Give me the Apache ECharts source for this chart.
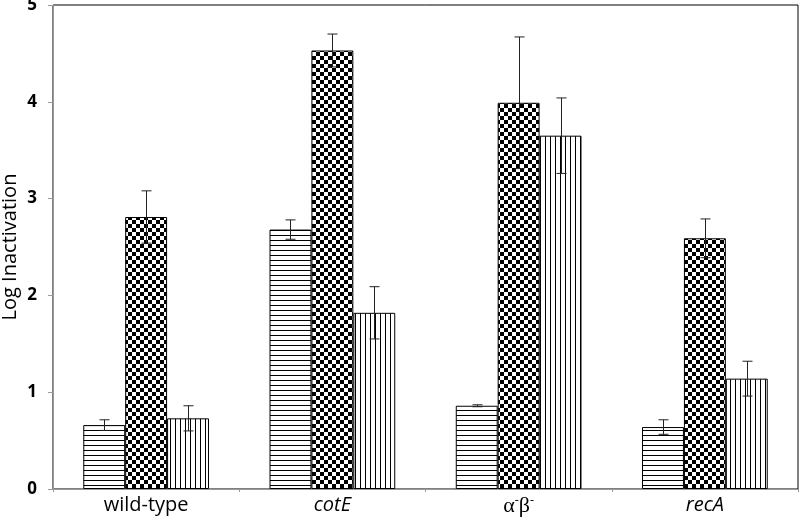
<!DOCTYPE html>
<html>
<head>
<meta charset="utf-8">
<style>
	html,body{ margin:0; padding:0; background:#fff;}
	#main{ width:800px; height:520px;}
</style>
<script src="https://cdn.jsdelivr.net/npm/echarts@6/dist/echarts.min.js"></script>
</head>
<body>
<div id="main"></div>
<script>
// data
var categories=['wild-type','cotE','ab','recA'];
var horizVals=[0.66,2.68,0.86,0.64];
var horizErr=[0.055,0.10,0.01,0.075];
var checkVals=[2.81,4.53,3.99,2.59];
var checkErr=[0.27,0.17,0.68,0.20];
var vertVals=[0.73,1.82,3.65,1.14];
var vertErr=[0.13,0.27,0.39,0.18];
var yTicks=[0,1,2,3,4,5];

var catGap=0.325;

// fill patterns
var makeTile=function(w,h,draw){
	var c=document.createElement('canvas');
	c.width=w;c.height=h;
	var ctx=c.getContext('2d');
	ctx.fillStyle='#fff';
	ctx.fillRect(0,0,w,h);
	ctx.fillStyle='#000';
	draw(ctx);
	return {image:c,repeat:'repeat'};
}
var horizPat=makeTile(8,5,function(ctx){ ctx.fillRect(0,0,8,1); });
var vertPat=makeTile(5,8,function(ctx){ ctx.fillRect(0,0,1,8); });
var checkPat=makeTile(8,8,function(ctx){ ctx.fillRect(0,0,4,4); ctx.fillRect(4,4,4,4); });

var errSeries=function(idx,vals,errs){
	var data=[];
	for(var i in vals){
		data.push([parseInt(i),vals[i],errs[i]]);
	}
	return {
		type:'custom',
		z:5,
		silent:true,
		data:data,
		renderItem:function(params,api){
			var ci=api.value(0),v=api.value(1),e=api.value(2);
			var cw=api.size([1,0])[0];
			var bw=cw*(1-catGap)/3;
			var off=(idx-1)*bw;
			var top=api.coord([ci,v+e]);
			var bot=api.coord([ci,v-e]);
			var x=Math.round(top[0]+off)+0.5;
			var st={stroke:'#222',lineWidth:1};
			return {type:'group',children:[
				{type:'line',shape:{x1:x,y1:top[1],x2:x,y2:bot[1]},style:st},
				{type:'line',shape:{x1:x-5,y1:top[1],x2:x+5,y2:top[1]},style:st},
				{type:'line',shape:{x1:x-5,y1:bot[1],x2:x+5,y2:bot[1]},style:st}
			]};
		}
	};
}

var barSeries=function(vals,pat){
	return {
		type:'bar',
		data:vals,
		barGap:'0%',
		barCategoryGap:(catGap*100)+'%',
		itemStyle:{color:pat,borderColor:'#000',borderWidth:1},
		silent:true
	};
}

var myChart=echarts.init(document.getElementById('main'));
myChart.setOption({
	animation:false,
	backgroundColor:'#fff',
	grid:{left:53,right:2,top:5,bottom:31,show:true,borderColor:'#000',borderWidth:1,outerBoundsMode:'none',containLabel:false},
	xAxis:{
		type:'category',
		data:categories,
		axisLine:{lineStyle:{color:'#999',width:1}},
		axisTick:{show:true,length:3,lineStyle:{color:'#999'}},
		axisLabel:{
			interval:0,
			margin:6,
			fontSize:20,
			color:'#000',
			fontFamily:'Open Sans',
			formatter:function(v){
				if(v=='ab')return '{g|α}{s|-}{g|β}{s|-}';
				if(v=='cotE'||v=='recA')return '{i|'+v+'}';
				return v;
			},
			rich:{
				g:{fontFamily:'Liberation Serif',fontSize:22,color:'#000'},
				s:{fontFamily:'Liberation Serif',fontSize:12,color:'#000',verticalAlign:'top',padding:[0,0,10,0]},
				i:{fontFamily:'Open Sans',fontStyle:'italic',fontSize:20,color:'#000'}
			}
		}
	},
	yAxis:{
		type:'value',
		min:yTicks[0],
		max:yTicks[yTicks.length-1],
		interval:1,
		name:'Log Inactivation',
		nameLocation:'middle',
		nameGap:33,
		nameMoveOverlap:false,
		nameTextStyle:{fontSize:20,color:'#000',fontFamily:'Open Sans'},
		axisLine:{show:true,lineStyle:{color:'#999'}},
		axisTick:{show:true,length:5,lineStyle:{color:'#999'}},
		splitLine:{show:false},
		axisLabel:{margin:16,fontSize:17,fontWeight:'bold',color:'#000',fontFamily:'Open Sans'}
	},
	series:[
		barSeries(horizVals,horizPat),
		barSeries(checkVals,checkPat),
		barSeries(vertVals,vertPat),
		errSeries(0,horizVals,horizErr),
		errSeries(1,checkVals,checkErr),
		errSeries(2,vertVals,vertErr)
	]
});
</script>
</body>
</html>
